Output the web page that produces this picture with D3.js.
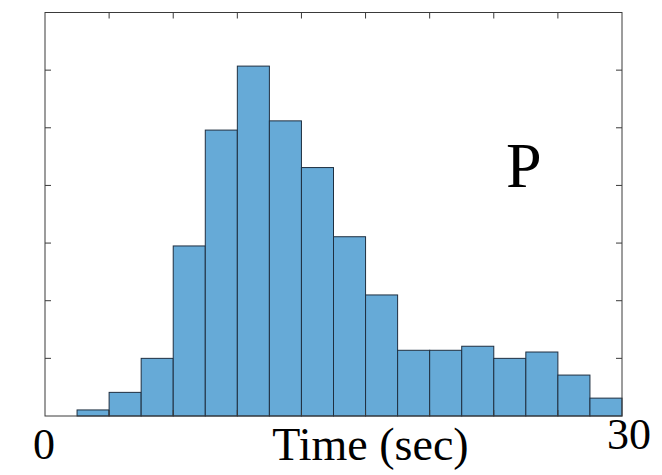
<!DOCTYPE html>
<html>
<head>
<meta charset="utf-8">
<script src="https://cdn.jsdelivr.net/npm/d3@7"></script>
<style>
  body { margin: 0; background: #fff; }
  text { font-family: "Liberation Serif", "DejaVu Serif", serif; fill: #000; }
</style>
</head>
<body>
<div id="graph"></div>
<script>
// bords des classes (secondes) et hauteurs
var binEdges = [0, 5/3, 10/3, 5, 20/3, 25/3, 10, 35/3, 40/3, 15, 50/3, 55/3, 20, 65/3, 70/3, 25, 80/3, 85/3, 30];
var binValues = [0, 0.0021, 0.0082, 0.0200, 0.0590, 0.0992, 0.1214, 0.1024, 0.0862, 0.0622,
                 0.0420, 0.0228, 0.0228, 0.0242, 0.0200, 0.0222, 0.0142, 0.0062];
var xTicks = [0, 10/3, 20/3, 10, 40/3, 50/3, 20, 70/3, 80/3, 30];
var yTicks = [0, 0.02, 0.04, 0.06, 0.08, 0.10, 0.12, 0.14];
var xLabels = ["0", "30"];
var xTitle = "Time (sec)";
var panelLabel = "P";

var width = 662, height = 475;
var plotLeft = 45, plotRight = 622, plotTop = 12.5, plotBottom = 416;

var svg = d3.select("#graph").append("svg")
    .attr("width", width)
    .attr("height", height);

var x = d3.scaleLinear().domain([0, 30]).range([plotLeft, plotRight]);
var y = d3.scaleLinear().domain([0, 0.14]).range([plotBottom, plotTop]);

var bins = binValues.map(function (v, i) {
    return { x0: binEdges[i], x1: binEdges[i + 1], v: v };
});

// barres
svg.append("g")
    .selectAll("rect")
    .data(bins.filter(d => d.v > 0))
    .enter().append("rect")
    .attr("x", d => x(d.x0))
    .attr("y", d => y(d.v))
    .attr("width", d => x(d.x1) - x(d.x0))
    .attr("height", d => y(0) - y(d.v))
    .attr("fill", "#66aad7")
    .attr("stroke", "#1f2f40")
    .attr("stroke-width", 1);

// cadre + graduations vers l'intérieur
var axisColor = "#3a3a3a";
var tickLen = 6;
var box = svg.append("g").attr("fill", "none").attr("stroke", axisColor).attr("stroke-width", 1);

box.append("rect")
    .attr("x", plotLeft)
    .attr("y", plotTop)
    .attr("width", plotRight - plotLeft)
    .attr("height", plotBottom - plotTop);

box.selectAll(".xt-top")
    .data(xTicks.slice(1, -1))
    .enter().append("line")
    .attr("x1", d => x(d)).attr("x2", d => x(d))
    .attr("y1", plotTop).attr("y2", plotTop + tickLen);

box.selectAll(".xt-bot")
    .data(xTicks.slice(1, -1))
    .enter().append("line")
    .attr("x1", d => x(d)).attr("x2", d => x(d))
    .attr("y1", plotBottom).attr("y2", plotBottom - tickLen);

box.selectAll(".yt-left")
    .data(yTicks.slice(1, -1))
    .enter().append("line")
    .attr("x1", plotLeft).attr("x2", plotLeft + tickLen)
    .attr("y1", d => y(d)).attr("y2", d => y(d));

box.selectAll(".yt-right")
    .data(yTicks.slice(1, -1))
    .enter().append("line")
    .attr("x1", plotRight).attr("x2", plotRight - tickLen)
    .attr("y1", d => y(d)).attr("y2", d => y(d));

// textes
svg.append("text")
    .attr("x", x(0) - 1)
    .attr("y", 459)
    .attr("text-anchor", "middle")
    .style("font-size", "44px")
    .text(xLabels[0]);

svg.append("text")
    .attr("x", x(30) + 7)
    .attr("y", 449)
    .attr("text-anchor", "middle")
    .style("font-size", "44px")
    .text(xLabels[1]);

svg.append("text")
    .attr("x", 370.5)
    .attr("y", 460)
    .attr("text-anchor", "middle")
    .style("font-size", "46px")
    .text(xTitle);

svg.append("text")
    .attr("x", 506)
    .attr("y", 187)
    .style("font-size", "64px")
    .text(panelLabel);
</script>
</body>
</html>
